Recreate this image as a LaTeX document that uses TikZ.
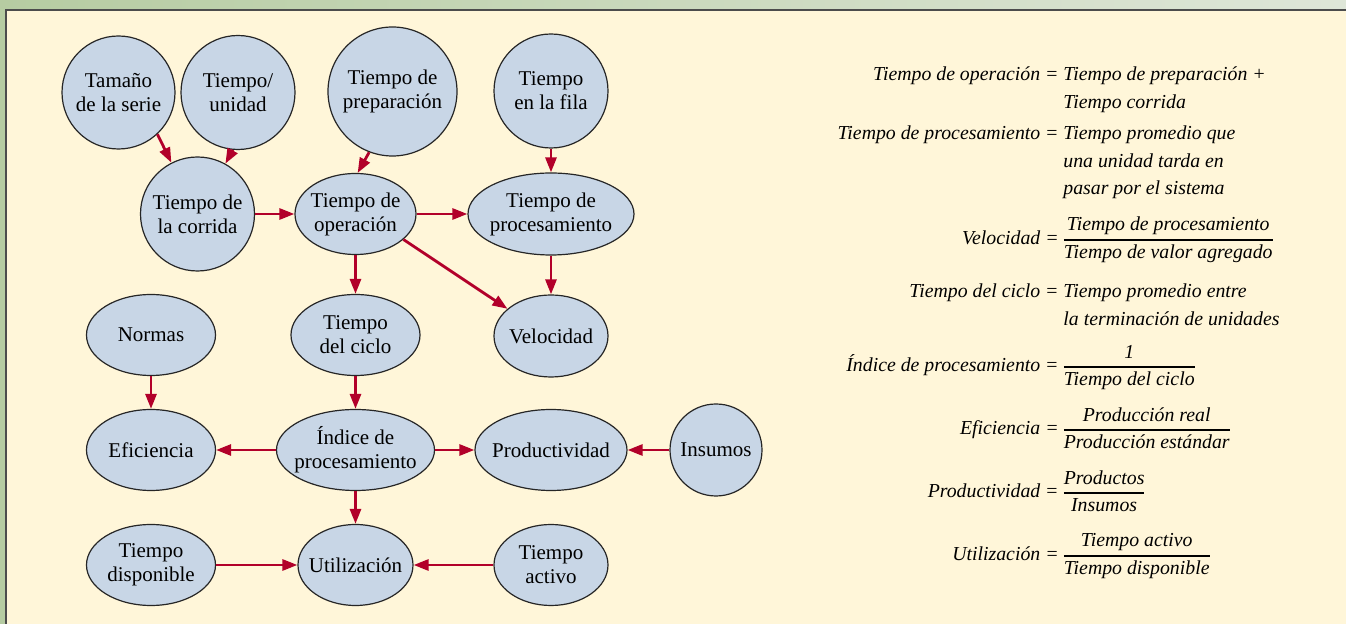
\documentclass[tikz,border=0pt]{standalone}
\usepackage{amsmath}
\usepackage{fontspec}
\setmainfont{Liberation Serif}
\usepackage{tikz}
\usetikzlibrary{arrows.meta,shapes.geometric,positioning}

\definecolor{crema}{RGB}{255,246,217}
\definecolor{azulnodo}{RGB}{200,214,230}
\definecolor{rojoflecha}{RGB}{178,0,42}
\definecolor{verdemarco}{RGB}{182,204,162}
\definecolor{verdeclaro}{RGB}{222,230,216}

\newcommand{\nodofuente}{\fontsize{10.5}{12}\selectfont}
\newcommand{\ecufuente}{\fontsize{9.9}{13.7}\selectfont\itshape}
\newcommand{\fraccion}[2]{$\genfrac{}{}{0.7pt}{0}{\textit{#1}}{\textit{#2}}$}
\newcommand{\lineas}[1]{\begin{tabular}[t]{@{}l@{}}#1\end{tabular}}

\tikzset{
  circulo/.style={circle, draw=black!85, line width=0.6pt, fill=azulnodo,
    inner sep=0pt, align=center, font=\nodofuente},
  elipse/.style={ellipse, draw=black!85, line width=0.6pt, fill=azulnodo,
    inner xsep=-3pt, inner ysep=0pt, align=center, font=\nodofuente},
  flecha/.style={->, draw=rojoflecha, line width=1.4pt},
  ecuizq/.style={anchor=base east, inner sep=0pt, font=\ecufuente},
  ecuder/.style={anchor=base west, inner sep=0pt, font=\ecufuente},
}

\begin{document}
\begin{tikzpicture}[x=0.5pt, y=-0.5pt, >={Triangle[length=7.5pt,width=5.5pt]}]
  \useasboundingbox (0,0) rectangle (1346,624);
  % Marco: franja verde y fondo crema
  \shade[left color=verdemarco, right color=verdeclaro] (0,0) rectangle (1346,10);
  \fill[verdemarco] (0,0) rectangle (6,624);
  \fill[crema] (6,10) rectangle (1346,624);
  \draw[black!70, line width=1pt] (6,624) -- (6,10) -- (1346,10);

  % Fila superior
  \node[circulo, minimum size=56.5pt] (tam) at (118.5,92.5) {Tamaño\\de la serie};
  \node[circulo, minimum size=57pt] (unid) at (238,92.5) {Tiempo/\\unidad};
  \node[circulo, minimum size=64.5pt] (prep) at (392.5,91.5) {Tiempo de\\preparación};
  \node[circulo, minimum size=57pt] (fila) at (551,91) {Tiempo\\en la fila};

  % Segunda fila
  \node[circulo, minimum size=57pt] (corr) at (197.5,214) {Tiempo de\\la corrida};
  \node[elipse, minimum width=60.5pt, minimum height=40.5pt] (oper) at (355.5,214) {Tiempo de\\operación};
  \node[elipse, minimum width=83pt, minimum height=41pt] (proc) at (551,214) {Tiempo de\\procesamiento};

  % Tercera fila
  \node[elipse, minimum width=64.5pt, minimum height=40.5pt] (norm) at (151,335) {Normas};
  \node[elipse, minimum width=64.5pt, minimum height=40.5pt] (ciclo) at (355.5,335) {Tiempo\\del ciclo};
  \node[elipse, minimum width=57pt, minimum height=41pt] (vel) at (551,336) {Velocidad};

  % Cuarta fila
  \node[elipse, minimum width=64.5pt, minimum height=40.5pt] (efic) at (151,450) {Eficiencia};
  \node[elipse, minimum width=79pt, minimum height=40.5pt] (indice) at (355.5,450) {Índice de\\procesamiento};
  \node[elipse, minimum width=76pt, minimum height=40.5pt] (prod) at (551,450) {Productividad};
  \node[circulo, minimum size=46pt] (ins) at (716,450) {Insumos};

  % Fila inferior
  \node[elipse, minimum width=64.5pt, minimum height=40.5pt] (disp) at (151,565) {Tiempo\\disponible};
  \node[elipse, minimum width=57.5pt, minimum height=40.5pt] (util) at (355.5,565) {Utilización};
  \node[elipse, minimum width=57pt, minimum height=40.5pt] (act) at (551,565) {Tiempo\\activo};

  % Flechas
  \draw[flecha] (tam.-47) -- (corr.117);
  \draw[flecha] (unid.-95) -- (corr.61);
  \draw[flecha] (prep.-111) -- (oper.87);
  \draw[flecha] (fila) -- (proc);
  \draw[flecha] (corr) -- (oper);
  \draw[flecha] (oper) -- (proc);
  \draw[flecha] (oper.-28) -- (vel.148);
  \draw[flecha] (proc) -- (vel);
  \draw[flecha] (oper) -- (ciclo);
  \draw[flecha] (norm) -- (efic);
  \draw[flecha] (ciclo) -- (indice);
  \draw[flecha] (indice) -- (efic);
  \draw[flecha] (indice) -- (prod);
  \draw[flecha] (ins) -- (prod);
  \draw[flecha] (indice) -- (util);
  \draw[flecha] (disp) -- (util);
  \draw[flecha] (act) -- (util);

  % Ecuaciones
  \node[ecuizq] (eOper) at (1059,81) {Tiempo de operación =};
  \node[ecuder] (rOper) at (1063,81) {\lineas{Tiempo de preparación +\\Tiempo corrida}};
  \node[ecuizq] (eProc) at (1059,140) {Tiempo de procesamiento =};
  \node[ecuder] (rProc) at (1063,140) {\lineas{Tiempo promedio que\\una unidad tarda en\\pasar por el sistema}};
  \node[ecuizq] (eVel) at (1059,245) {Velocidad =};
  \node[ecuder] (rVel) at (1061,245) {\fraccion{Tiempo de procesamiento}{Tiempo de valor agregado}};
  \node[ecuizq] (eCiclo) at (1059,298) {Tiempo del ciclo =};
  \node[ecuder] (rCiclo) at (1063,298) {\lineas{Tiempo promedio entre\\la terminación de unidades}};
  \node[ecuizq] (eIndice) at (1059,372) {Índice de procesamiento =};
  \node[ecuder] (rIndice) at (1061,372) {\fraccion{1}{Tiempo del ciclo}};
  \node[ecuizq] (eEfic) at (1059,435) {Eficiencia =};
  \node[ecuder] (rEfic) at (1061,435) {\fraccion{Producción real}{Producción estándar}};
  \node[ecuizq] (eProd) at (1059,498) {Productividad =};
  \node[ecuder] (rProd) at (1061,498) {\fraccion{Productos}{Insumos}};
  \node[ecuizq] (eUtil) at (1059,561) {Utilización =};
  \node[ecuder] (rUtil) at (1061,561) {\fraccion{Tiempo activo}{Tiempo disponible}};
\end{tikzpicture}
\end{document}
